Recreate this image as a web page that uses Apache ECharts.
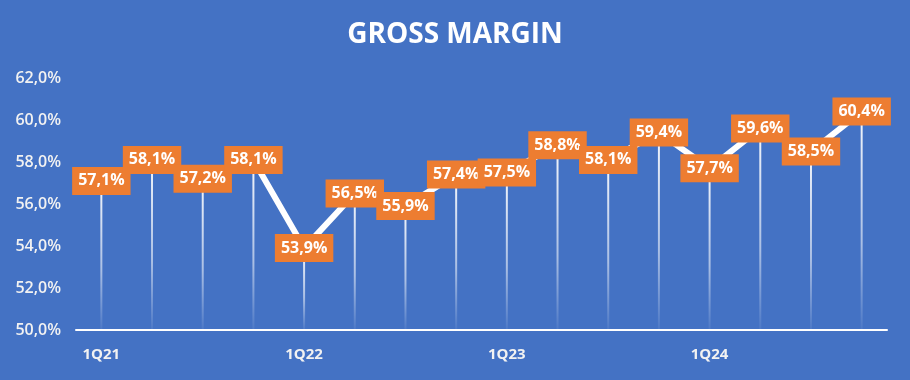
<!DOCTYPE html>
<html>
<head>
<meta charset="utf-8">
<script src="https://cdn.jsdelivr.net/npm/echarts@6/dist/echarts.min.js"></script>
<style>
html,body{margin:0;padding:0;background:#4472C4;}
#c{width:910px;height:380px;}
</style>
</head>
<body>
<div id="c"></div>
<script>
var categories = ['1Q21','2Q21','3Q21','4Q21','1Q22','2Q22','3Q22','4Q22','1Q23','2Q23','3Q23','4Q23','1Q24','2Q24','3Q24','4Q24'];
var grossMargin = [57.1, 58.1, 57.2, 58.1, 53.9, 56.5, 55.9, 57.4, 57.5, 58.8, 58.1, 59.4, 57.7, 59.6, 58.5, 60.4];
var yMin = 50, yMax = 62, yStep = 2;

function fmt(v){ return v.toFixed(1).replace('.', ',') + '%'; }

var chart = echarts.init(document.getElementById('c'));
chart.setOption({
  backgroundColor: '#4472C4',
  animation: false,
  textStyle: { fontFamily: 'Open Sans' },
  title: {
    text: 'GROSS MARGIN',
    left: 'center',
    top: 16,
    textStyle: { color: '#ffffff', fontSize: 28, fontWeight: 'bold', fontFamily: 'Open Sans' }
  },
  grid: { left: 76, right: 23, top: 78, bottom: 50 },
  xAxis: {
    type: 'category',
    data: categories,
    boundaryGap: true,
    axisLine: { lineStyle: { color: '#ffffff', width: 2 } },
    axisTick: { show: false },
    axisLabel: {
      interval: 3,
      color: '#f2f2f2',
      fontSize: 15,
      fontWeight: 'bold',
      margin: 17,
      fontFamily: 'Open Sans'
    },
    splitLine: { show: false }
  },
  yAxis: {
    type: 'value',
    min: yMin, max: yMax, interval: yStep,
    axisLine: { show: false },
    axisTick: { show: false },
    splitLine: { show: false },
    axisLabel: {
      color: '#f2f2f2',
      fontSize: 16,
      fontWeight: 600,
      margin: 15,
      fontFamily: 'Open Sans',
      formatter: function(v){ return fmt(v); }
    }
  },
  series: [
    {
      type: 'bar',
      data: grossMargin,
      barWidth: 2,
      z: 1,
      itemStyle: {
        color: new echarts.graphic.LinearGradient(0, 0, 0, 1, [
          { offset: 0, color: 'rgba(255,255,255,0.95)' },
          { offset: 0.6, color: 'rgba(255,255,255,0.55)' },
          { offset: 1, color: 'rgba(255,255,255,0.05)' }
        ])
      },
      silent: true
    },
    {
      type: 'line',
      data: grossMargin,
      z: 3,
      symbol: 'none',
      lineStyle: { color: '#ffffff', width: 6 }
    },
    {
      type: 'bar',
      data: grossMargin,
      barWidth: 2,
      barGap: '-100%',
      z: 5,
      itemStyle: { color: 'rgba(0,0,0,0)' },
      label: {
        show: true,
        position: ['50%', 0],
        align: 'center',
        verticalAlign: 'middle',
        backgroundColor: '#ED7D31',
        color: '#ffffff',
        fontWeight: 'bold',
        fontSize: 16,
        fontFamily: 'Open Sans',
        padding: [7, 6, 5, 6],
        formatter: function(p){ return fmt(p.value); }
      },
      labelLayout: { hideOverlap: false },
      silent: true
    }
  ]
});
</script>
</body>
</html>
